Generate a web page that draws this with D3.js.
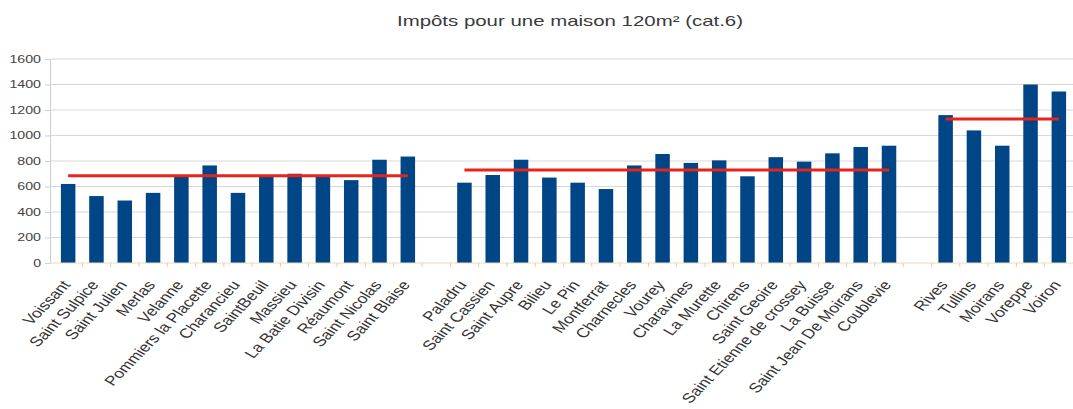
<!DOCTYPE html>
<html>
<head>
<meta charset="utf-8">
<script src="https://cdn.jsdelivr.net/npm/d3@7"></script>
<style>
  html, body { margin: 0; padding: 0; background: #ffffff; }
  svg { display: block; font-family: "Liberation Sans", Arial, sans-serif; }
</style>
</head>
<body>
<svg id="chart" width="1073" height="409"></svg>
<script>
// Communes, grouped by area, with the tax for a 120 m² house (cat. 6)
const communesA = ["Voissant", "Saint Sulpice", "Saint Julien", "Merlas", "Velanne",
  "Pommiers la Placette", "Charancieu", "SaintBeuil", "Massieu", "La Batie Divisin",
  "Réaumont", "Saint Nicolas", "Saint Blaise"];
const impotsA = [620, 525, 490, 550, 690, 765, 550, 690, 700, 690, 650, 810, 835];
const moyenneA = 685;

const communesB = ["Paladru", "Saint Cassien", "Saint Aupre", "Bilieu", "Le Pin",
  "Montferrat", "Charnecles", "Vourey", "Charavines", "La Murette", "Chirens",
  "Saint Geoire", "Saint Etienne de crossey", "La Buisse", "Saint Jean De Moirans", "Coublevie"];
const impotsB = [630, 690, 810, 670, 630, 580, 765, 855, 785, 805, 680, 830, 795, 860, 910, 920];
const moyenneB = 730;

const communesC = ["Rives", "Tullins", "Moirans", "Voreppe", "Voiron"];
const impotsC = [1160, 1040, 920, 1400, 1345];
const moyenneC = 1130;

const yTicks = [0, 200, 400, 600, 800, 1000, 1200, 1400, 1600];
const titre = "Impôts pour une maison 120m² (cat.6)";

const groups = [
  { names: communesA, values: impotsA, mean: moyenneA },
  { names: communesB, values: impotsB, mean: moyenneB },
  { names: communesC, values: impotsC, mean: moyenneC }
];

// Category slots, with one empty slot between groups
const slots = [];
groups.forEach((g, gi) => {
  if (gi > 0) slots.push("__gap" + gi);
  g.names.forEach(n => slots.push(n));
});

const svg = d3.select("#chart");
const plot = { left: 50, top: 59, right: 1073, bottom: 263 };
const bandStart = 54;

const x = d3.scaleBand().domain(slots).range([bandStart, plot.right]).paddingInner(0).paddingOuter(0);
const y = d3.scaleLinear().domain([0, 1600]).range([plot.bottom, plot.top]);

const barColor = "#004586";
const lineColor = "#e8231c";

// Title
svg.append("text")
  .attr("x", 570).attr("y", 26)
  .attr("text-anchor", "middle")
  .attr("font-size", 15)
  .attr("fill", "#3a3a3a")
  .attr("textLength", 346)
  .attr("lengthAdjust", "spacingAndGlyphs")
  .text(titre);

// Horizontal gridlines
svg.append("g").selectAll("line")
  .data(yTicks.filter(d => d > 0))
  .join("line")
  .attr("x1", plot.left).attr("x2", plot.right)
  .attr("y1", d => y(d)).attr("y2", d => y(d))
  .attr("stroke", "#d8d8d8").attr("stroke-width", 1);

// Y axis
const yAxis = svg.append("g")
  .attr("transform", `translate(${plot.left},0)`)
  .call(d3.axisLeft(y).tickValues(yTicks).tickSize(5).tickPadding(4).tickFormat(d3.format("d")));
yAxis.select(".domain").attr("stroke", "#cfcfcf");
yAxis.selectAll(".tick line").attr("stroke", "#cfcfcf");
yAxis.selectAll(".tick text")
  .attr("font-size", 10.5)
  .attr("fill", "#444")
  .attr("font-family", "Liberation Sans, Arial, sans-serif")
  .attr("x", -9 / 1.35)
  .attr("transform", "scale(1.35,1)");

// Bars
const barW = 14.5;
const allBars = [];
groups.forEach(g => g.names.forEach((n, i) => allBars.push({ name: n, value: g.values[i] })));
svg.append("g").selectAll("rect")
  .data(allBars)
  .join("rect")
  .attr("x", d => x(d.name) + x.bandwidth() / 2 - barW / 2)
  .attr("width", barW)
  .attr("y", d => y(d.value))
  .attr("height", d => y(0) - y(d.value))
  .attr("fill", barColor);

// X axis baseline and category ticks
svg.append("line")
  .attr("x1", plot.left).attr("x2", plot.right)
  .attr("y1", y(0)).attr("y2", y(0))
  .attr("stroke", "#ecd9bf").attr("stroke-width", 1);
svg.append("g").selectAll("line")
  .data(slots.slice(1))
  .join("line")
  .attr("x1", d => x(d)).attr("x2", d => x(d))
  .attr("y1", y(0)).attr("y2", y(0) + 4)
  .attr("stroke", "#f0c89a").attr("stroke-width", 1);

// Group average lines
const line = d3.line().x(d => x(d.name) + x.bandwidth() / 2).y(d => y(d.value));
groups.forEach(g => {
  const pts = g.names.map(n => ({ name: n, value: g.mean }));
  svg.append("path")
    .datum(pts)
    .attr("d", line)
    .attr("fill", "none")
    .attr("stroke", lineColor)
    .attr("stroke-width", 3);
});

// Rotated category labels (slightly widened glyphs)
svg.append("g").selectAll("text")
  .data(allBars)
  .join("text")
  .attr("transform", d => `translate(${x(d.name) + x.bandwidth() / 2 + 3},${y(0) + 22}) scale(1.3,1) rotate(-53)`)
  .attr("text-anchor", "end")
  .attr("font-size", 13.5)
  .attr("fill", "#333")
  .text(d => d.name);
</script>
</body>
</html>
